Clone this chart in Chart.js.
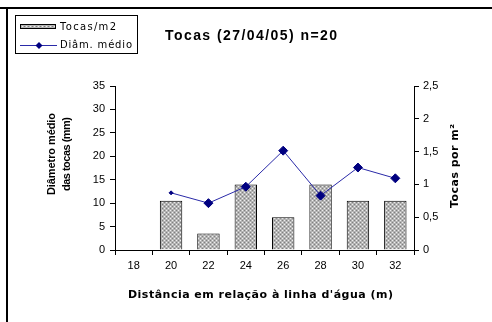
<!DOCTYPE html>
<html>
<head>
<meta charset="utf-8">
<script src="https://cdn.jsdelivr.net/npm/chart.js@4/dist/chart.umd.min.js"></script>
<style>
  html, body { margin: 0; padding: 0; background: #fff; }
  #wrap { width: 492px; height: 322px; position: relative; }
</style>
</head>
<body>
<div id="wrap"><canvas id="c" width="492" height="322"></canvas></div>
<script>
const distances = ["18", "20", "22", "24", "26", "28", "30", "32"];
const tocasPorM2 = [null, 0.75, 0.25, 1.0, 0.5, 1.0, 0.75, 0.75];
const diametroMedio = [null, 12.2, 10.0, 13.5, 21.2, 11.6, 17.6, 15.3];
const chartTitle = "Tocas (27/04/05) n=20";
const xTitle = "Distância em relação à linha d'água (m)";
const yTitle = ["Diâmetro médio", "das tocas (mm)"];
const y1Title = "Tocas por m²";

const font = "'Liberation Sans', Arial, sans-serif";
const wideFont = "'DejaVu Sans', Verdana, sans-serif";

// grey dotted fill like the old spreadsheet bars
const makePattern = () => {
  const p = document.createElement("canvas");
  p.width = 4;
  p.height = 4;
  const pc = p.getContext("2d");
  pc.fillStyle = "#b4b4b4";
  pc.fillRect(0, 0, 4, 4);
  pc.fillStyle = "#eeeeee";
  pc.fillRect(0, 0, 1, 1);
  pc.fillRect(2, 2, 1, 1);
  pc.fillStyle = "#808080";
  pc.fillRect(2, 0, 1, 1);
  pc.fillRect(0, 2, 1, 1);
  return document.getElementById("c").getContext("2d").createPattern(p, "repeat");
};
const pattern = makePattern();

// the original uses a wide bitmap font, so fit text to its width with letter spacing
const fitText = (ctx, text, left, y, width) => {
  ctx.letterSpacing = "0px";
  const natural = ctx.measureText(text).width;
  const sp = (width - natural) / Math.max(1, text.length - 1);
  ctx.letterSpacing = sp + "px";
  ctx.textAlign = "left";
  ctx.textBaseline = "middle";
  ctx.fillText(text, left, y);
  ctx.letterSpacing = "0px";
};

const rotatedText = (ctx, text, cx, cy, width) => {
  ctx.save();
  ctx.translate(cx, cy);
  ctx.rotate(-Math.PI / 2);
  fitText(ctx, text, -width / 2, 0, width);
  ctx.restore();
};

const decorations = {
  id: "decorations",
  afterDraw(chart) {
    const ctx = chart.ctx;
    const area = chart.chartArea;
    ctx.save();
    // frame lines
    ctx.strokeStyle = "#000";
    ctx.lineWidth = 2;
    ctx.beginPath();
    ctx.moveTo(0, 8);
    ctx.lineTo(492, 8);
    ctx.moveTo(7, 8);
    ctx.lineTo(7, 322);
    ctx.stroke();

    // legend box
    ctx.lineWidth = 1;
    ctx.strokeRect(15.5, 15.5, 122, 38);
    ctx.fillStyle = pattern;
    ctx.fillRect(20, 24, 36, 5);
    ctx.strokeRect(20.5, 24.5, 35, 4);
    ctx.strokeStyle = "#2a2aa8";
    ctx.beginPath();
    ctx.moveTo(20, 45.5);
    ctx.lineTo(57, 45.5);
    ctx.stroke();
    ctx.fillStyle = "#000080";
    ctx.beginPath();
    ctx.moveTo(39, 42);
    ctx.lineTo(42.5, 45.5);
    ctx.lineTo(39, 49);
    ctx.lineTo(35.5, 45.5);
    ctx.closePath();
    ctx.fill();
    ctx.fillStyle = "#000";
    ctx.font = "10px " + wideFont;
    fitText(ctx, "Tocas/m2", 60, 27, 56);
    fitText(ctx, "Diâm. médio", 60, 45, 72);

    // chart title
    ctx.font = "bold 14px " + font;
    fitText(ctx, chartTitle, 165, 36, 172);

    // axis titles
    ctx.font = "bold 11px " + wideFont;
    const xc = (area.left + area.right) / 2;
    fitText(ctx, xTitle, xc - 4 - 265 / 2, 295, 265);
    rotatedText(ctx, y1Title, 455, 166, 84);
    ctx.font = "bold 11px " + font;
    rotatedText(ctx, yTitle[0], 52, 154, 82);
    rotatedText(ctx, yTitle[1], 67, 154, 74);
    ctx.restore();
  },
};

new Chart(document.getElementById("c"), {
  data: {
    labels: distances,
    datasets: [
      {
        type: "line",
        label: "Diâm. médio",
        data: diametroMedio,
        yAxisID: "y",
        borderColor: "#2a2aa8",
        borderWidth: 1,
        pointStyle: "rectRot",
        pointRadius: [0, 2, 4.5, 4.5, 4.5, 4.5, 4.5, 4.5],
        pointBackgroundColor: "#000080",
        pointBorderColor: "#000080",
        spanGaps: false,
        order: 0,
      },
      {
        type: "bar",
        label: "Tocas/m2",
        data: tocasPorM2,
        yAxisID: "y1",
        backgroundColor: pattern,
        borderColor: "#000",
        borderWidth: 1,
        barPercentage: 0.6,
        categoryPercentage: 1,
        order: 1,
      },
    ],
  },
  options: {
    animation: false,
    responsive: false,
    layout: { padding: { top: 86, left: 93, right: 52, bottom: 52 } },
    plugins: { legend: { display: false }, tooltip: { enabled: false } },
    scales: {
      x: {
        offset: true,
        afterFit: (s) => { s.height = 20; },
        border: { color: "#000", width: 1 },
        grid: { display: true, drawOnChartArea: false, offset: true, color: "#000", tickLength: 5 },
        ticks: { color: "#000", font: { family: font, size: 11 }, padding: 4 },
      },
      y: {
        position: "left",
        min: 0,
        max: 35,
        afterFit: (s) => { s.width = 22; },
        border: { color: "#000", width: 1 },
        grid: { drawOnChartArea: false, color: "#000", tickLength: 5 },
        ticks: { stepSize: 5, color: "#000", font: { family: font, size: 11 }, padding: 5 },
      },
      y1: {
        position: "right",
        min: 0,
        max: 2.5,
        afterFit: (s) => { s.width = 26; },
        border: { color: "#000", width: 1 },
        grid: { drawOnChartArea: false, color: "#000", tickLength: 5 },
        ticks: {
          stepSize: 0.5,
          color: "#000",
          font: { family: font, size: 11 },
          padding: 4,
          callback: (v) => String(v).replace(".", ","),
        },
      },
    },
  },
  plugins: [decorations],
});
</script>
</body>
</html>
